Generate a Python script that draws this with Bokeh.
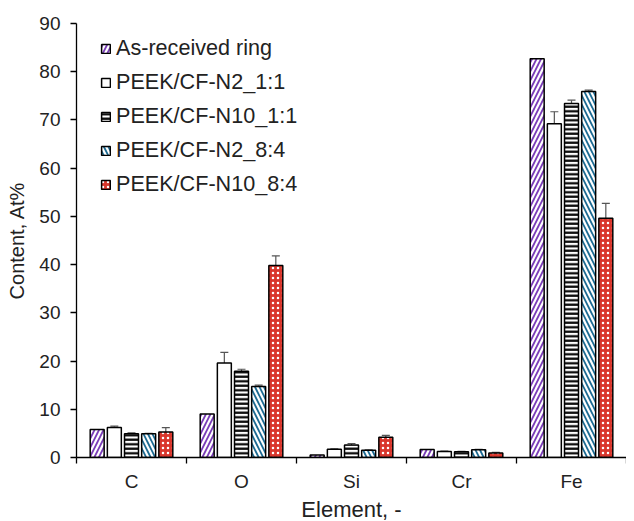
from bokeh.plotting import figure
from bokeh.models import (Range1d, LinearAxis, FixedTicker, ColumnDataSource, Whisker,
                          Legend, LegendItem, TeeHead, Title)
from bokeh.embed import file_html
from bokeh.resources import INLINE

elements = ["C", "O", "Si", "Cr", "Fe"]
series = ["As-received ring", "PEEK/CF-N2_1:1", "PEEK/CF-N10_1:1",
          "PEEK/CF-N2_8:4", "PEEK/CF-N10_8:4"]

as_received = [5.8, 9.0, 0.5, 1.65, 82.7]
as_received_err = [0.0, 0.0, 0.0, 0.0, 0.0]
n2_11 = [6.2, 19.6, 1.7, 1.25, 69.2]
n2_11_err = [0.3, 2.2, 0.1, 0.1, 2.5]
n10_11 = [4.9, 17.9, 2.6, 1.2, 73.4]
n10_11_err = [0.2, 0.4, 0.3, 0.1, 0.7]
n2_84 = [4.9, 14.7, 1.5, 1.6, 75.9]
n2_84_err = [0.1, 0.3, 0.1, 0.1, 0.3]
n10_84 = [5.3, 39.8, 4.2, 0.95, 49.6]
n10_84_err = [0.9, 2.0, 0.4, 0.1, 3.1]

values = [as_received, n2_11, n10_11, n2_84, n10_84]
errors = [as_received_err, n2_11_err, n10_11_err, n2_84_err, n10_84_err]

styles = [
    dict(fill_color="white", hatch_pattern="right_diagonal_line", hatch_color="#7a3db8",
         hatch_scale=9, hatch_weight=1.8),
    dict(fill_color="white", hatch_pattern=None),
    dict(fill_color="white", hatch_pattern="horizontal_line", hatch_color="black",
         hatch_scale=4.5, hatch_weight=2.2),
    dict(fill_color="white", hatch_pattern="left_diagonal_line", hatch_color="#1c6b93",
         hatch_scale=9, hatch_weight=1.8),
    dict(fill_color="#d9362c", hatch_pattern="dot", hatch_color="white",
         hatch_scale=5, hatch_weight=1.5),
]

FONT = "Liberation Sans"

p = figure(width=626, height=521, output_backend="svg", toolbar_location=None,
           x_range=Range1d(0, 5), y_range=Range1d(0, 90),
           x_axis_location=None, min_border_left=76, min_border_right=0,
           min_border_top=23, min_border_bottom=64)
p.outline_line_color = None
for g in p.grid:
    g.visible = False
p.background_fill_color = "white"

bar_w = 0.127
pitch = 0.156
items = []
for j, (name, vals, errs, st) in enumerate(zip(series, values, errors, styles)):
    xs = [i + 0.5 + (j - 2) * pitch for i in range(len(elements))]
    src = ColumnDataSource(dict(x=xs, top=vals))
    kw = dict(st)
    hp = kw.pop("hatch_pattern")
    if hp is None:
        r = p.vbar(x="x", top="top", width=bar_w, source=src, line_color="black",
                   line_width=1.5, **kw)
    else:
        r = p.vbar(x="x", top="top", width=bar_w, source=src, line_color="black",
                   line_width=1.5, hatch_pattern=hp, **kw)
    items.append(LegendItem(label=name, renderers=[r]))
    if any(e > 0 for e in errs):
        esrc = ColumnDataSource(dict(x=[x for x, e in zip(xs, errs) if e > 0],
                                     lo=[v - e for v, e in zip(vals, errs) if e > 0],
                                     hi=[v + e for v, e in zip(vals, errs) if e > 0]))
        w = Whisker(base="x", lower="lo", upper="hi", source=esrc, dimension="height",
                    line_color="#555555", line_width=1.2,
                    upper_head=TeeHead(size=8, line_color="#555555", line_width=1.2),
                    lower_head=TeeHead(size=8, line_color="#555555", line_width=1.2))
        p.add_layout(w)

# y axis
ya = p.yaxis[0]
ya.ticker = FixedTicker(ticks=list(range(0, 91, 10)))
ya.axis_label = "Content, At%"
ya.axis_label_text_font = FONT
ya.axis_label_text_font_size = "20px"
ya.axis_label_text_font_style = "normal"
ya.axis_label_text_color = "#222222"
ya.major_label_text_font = FONT
ya.major_label_text_font_size = "19px"
ya.major_label_text_color = "#222222"
ya.major_tick_in = 0
ya.major_tick_out = 6
ya.minor_tick_line_color = None
ya.major_label_standoff = 10
ya.axis_label_standoff = 8
ya.axis_line_width = 1.3
ya.major_tick_line_width = 1.3

# x axis: labels at category centres, minor ticks at category boundaries
centres = [i + 0.5 for i in range(len(elements))]
bounds = list(range(len(elements) + 1))
xa = LinearAxis(ticker=FixedTicker(ticks=centres, minor_ticks=bounds),
                major_label_overrides={c: e for c, e in zip(centres, elements)},
                major_tick_line_color=None, major_tick_in=0, major_tick_out=6,
                minor_tick_line_color="black", minor_tick_in=0, minor_tick_out=6,
                minor_tick_line_width=1.3, axis_line_width=1.3,
                major_label_standoff=7,
                major_label_text_font=FONT, major_label_text_font_size="19px",
                major_label_text_color="#222222")
p.add_layout(xa, "below")

# x axis title, as a title panel below the axis
xtitle = Title(text="Element, -", align="center", text_font=FONT,
               text_font_size="22px", text_font_style="normal",
               text_color="#222222", standoff=0, offset=0)
p.add_layout(xtitle, "below")

legend = Legend(items=items, location=(24, 260), orientation="vertical",
                glyph_width=11, glyph_height=11, label_standoff=5, spacing=8,
                label_height=20, padding=0, margin=0,
                label_text_font=FONT, label_text_font_size="21.6px",
                label_text_color="#222222",
                background_fill_alpha=0, border_line_color=None)
p.add_layout(legend, "center")

open("out.html", "w").write(file_html(p, INLINE))
